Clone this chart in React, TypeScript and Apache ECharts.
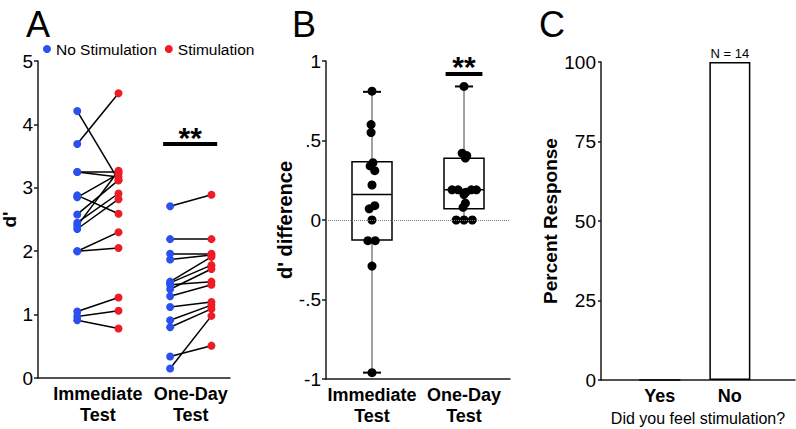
import React, { useEffect, useRef } from 'react';
import * as echarts from 'echarts';

const FONT = '"Liberation Sans", Arial, Helvetica, sans-serif';
const BLUE = '#2a50ee';
const RED = '#ee1c24';
const INK = '#1a1a1a';

// ---------- Panel A: d' per subject ----------
const aGroupLabels = ['Immediate\nTest', 'One-Day\nTest'];
const aImmNoStim = [4.21, 3.69, 3.25, 3.25, 2.88, 2.85, 2.58, 2.45, 2.40, 2.35, 2.00, 2.00, 1.05, 0.97, 0.91];
const aImmStim = [3.12, 4.49, 3.25, 3.17, 2.59, 3.22, 3.12, 2.91, 3.27, 2.82, 2.30, 2.05, 1.27, 1.06, 0.78];
const aDayNoStim = [2.71, 2.19, 1.96, 1.87, 1.52, 1.50, 1.47, 1.40, 1.29, 1.12, 0.91, 0.80, 0.34, 0.15];
const aDayStim = [2.89, 2.19, 1.96, 1.94, 1.91, 1.78, 1.52, 1.72, 1.47, 1.20, 1.15, 1.09, 0.51, 0.98];
const aSigLevel = 3.69;
const aSigSpan = [3.08, 4.39];

// ---------- Panel B: d' difference ----------
const bCategories = ['Immediate\nTest', 'One-Day\nTest'];
const bImmediate = [0.81, 0.60, 0.55, 0.36, 0.34, 0.31, 0.22, 0.09, 0.07, 0.00, -0.13, -0.13, -0.29, -0.96];
const bImmediateJitter = [0, -0.01, -0.01, 0.01, -0.02, 0.03, 0, 0.03, -0.03, 0, -0.045, 0.035, 0, 0];
const bOneDay = [0.84, 0.42, 0.405, 0.39, 0.19, 0.19, 0.175, 0.19, 0.19, 0.16, 0.106, 0.08, 0, 0, 0];
const bOneDayJitter = [0, -0.02, 0.03, 0.015, -0.13, -0.065, 0.02, 0.08, 0.135, 0, 0.015, -0.01, -0.085, 0, 0.09];
// [min, Q1, median, Q3, max]
const bBoxStats = [
  [-0.96, -0.125, 0.16, 0.366, 0.806],
  [0.0, 0.07, 0.19, 0.389, 0.84],
];
const bSigLevel = 0.917;
const bSigSpan = [0.8, 1.2];

// ---------- Panel C: stimulation perception ----------
const cCategories = ['Yes', 'No'];
const cPercent = [0, 100];
const cCount = [0, 14];

// x positions (data units) of the four columns in panel A
const AX = { immNo: 1, immStim: 2, dayNo: 3.25, dayStim: 4.25 };

const axisLineStyle = { color: INK, width: 1.5 };
const tickLabel = { fontSize: 19, color: '#000', fontFamily: FONT };
const boldLabel = { fontSize: 18, fontWeight: 'bold' as const, color: '#000', fontFamily: FONT, lineHeight: 21 };
const yName = { fontSize: 19, fontWeight: 'bold' as const, color: '#000', fontFamily: FONT };
const starLabel = {
  show: true, position: 'top', formatter: '**', fontSize: 30, fontWeight: 'bold',
  color: '#000', opacity: 1, fontFamily: FONT,
};

export default function App() {
  const ref = useRef<HTMLDivElement>(null);
  useEffect(() => {
    if (!ref.current) return;
    const chart = echarts.init(ref.current, undefined, { renderer: 'svg' });

    const pairsA = [
      ...aImmNoStim.map((v, i) => ({ coords: [[AX.immNo, v], [AX.immStim, aImmStim[i]]] })),
      ...aDayNoStim.map((v, i) => ({ coords: [[AX.dayNo, v], [AX.dayStim, aDayStim[i]]] })),
    ];

    const option: any = {
      animation: false,
      textStyle: { fontFamily: FONT },
      legend: {
        left: 43,
        top: 41,
        padding: 0,
        itemWidth: 8,
        itemHeight: 8,
        itemGap: 8,
        icon: 'circle',
        data: ['No Stimulation', 'Stimulation'],
        textStyle: { fontSize: 15.5, color: '#000', fontFamily: FONT },
        selectedMode: false,
      },
      graphic: [
        { type: 'text', left: 26, top: 6, style: { text: 'A', fontSize: 36, fill: '#000', fontFamily: FONT } },
        { type: 'text', left: 292, top: 6, style: { text: 'B', fontSize: 36, fill: '#000', fontFamily: FONT } },
        { type: 'text', left: 539, top: 6, style: { text: 'C', fontSize: 36, fill: '#000', fontFamily: FONT } },
      ],
      grid: [
        { left: 38, top: 61, width: 192, height: 317, outerBoundsMode: 'none' },
        { left: 326, top: 61, width: 184, height: 318, outerBoundsMode: 'none' },
        { left: 601, top: 62, width: 194, height: 318, outerBoundsMode: 'none' },
      ],
      xAxis: [
        {
          gridIndex: 0, type: 'value', min: 0.05, max: 4.7,
          axisLine: { show: true, onZero: false, lineStyle: axisLineStyle },
          axisTick: { show: false }, splitLine: { show: false },
          axisLabel: {
            ...boldLabel, margin: 5,
            customValues: [(AX.immNo + AX.immStim) / 2, (AX.dayNo + AX.dayStim) / 2],
            formatter: (v: number) => (v < (AX.immStim + AX.dayNo) / 2 ? aGroupLabels[0] : aGroupLabels[1]),
          },
        },
        {
          gridIndex: 1, type: 'category', data: bCategories, boundaryGap: true,
          axisLine: { show: true, onZero: false, lineStyle: axisLineStyle },
          axisTick: { show: false },
          axisLabel: { ...boldLabel, margin: 5, interval: 0 },
        },
        { gridIndex: 1, type: 'value', min: -0.5, max: 1.5, show: false },
        {
          gridIndex: 2, type: 'value', min: 0.16, max: 2.93,
          axisLine: { show: true, onZero: false, lineStyle: axisLineStyle },
          axisTick: { show: false }, splitLine: { show: false },
          axisLabel: {
            ...boldLabel, margin: 5,
            customValues: cCategories.map((_, i) => i + 1),
            formatter: (v: number) => cCategories[Math.round(v) - 1] ?? '',
          },
          name: 'Did you feel stimulation?', nameLocation: 'middle', nameGap: 23,
          nameTextStyle: { fontSize: 16, color: '#000', fontFamily: FONT },
        },
      ],
      yAxis: [
        {
          gridIndex: 0, type: 'value', min: 0, max: 5, interval: 1,
          axisLine: { show: true, lineStyle: axisLineStyle },
          axisTick: { show: true, length: 4, lineStyle: axisLineStyle },
          splitLine: { show: false },
          axisLabel: { ...tickLabel, margin: 5 },
          name: "d'", nameLocation: 'middle', nameGap: 17, nameTextStyle: yName,
        },
        {
          gridIndex: 1, type: 'value', min: -1, max: 1, interval: 0.5,
          axisLine: { show: true, onZero: false, lineStyle: axisLineStyle },
          axisTick: { show: true, length: 4, lineStyle: axisLineStyle },
          splitLine: { show: false },
          axisLabel: {
            ...tickLabel, margin: 5,
            formatter: (v: number) => (v === 0 ? '0' : (v < 0 ? '-' : '') + String(Math.abs(v)).replace(/^0/, '')),
          },
          name: "d' difference", nameLocation: 'middle', nameGap: 30,
          nameTextStyle: { ...yName, fontSize: 20 },
        },
        {
          gridIndex: 2, type: 'value', min: 0, max: 100, interval: 25,
          axisLine: { show: true, lineStyle: axisLineStyle },
          axisTick: { show: true, length: 3, lineStyle: axisLineStyle },
          splitLine: { show: false },
          axisLabel: { ...tickLabel, margin: 5 },
          name: 'Percent Response', nameLocation: 'middle', nameGap: 33, nameTextStyle: yName,
        },
      ],
      series: [
        // ----- Panel A -----
        {
          type: 'lines', coordinateSystem: 'cartesian2d', xAxisIndex: 0, yAxisIndex: 0,
          data: pairsA, silent: true, z: 2,
          lineStyle: { color: '#000', width: 1.5, opacity: 1 },
        },
        {
          name: 'No Stimulation', type: 'scatter', xAxisIndex: 0, yAxisIndex: 0, z: 3,
          symbol: 'circle', symbolSize: 8, itemStyle: { color: BLUE, opacity: 1 },
          data: [...aImmNoStim.map((v) => [AX.immNo, v]), ...aDayNoStim.map((v) => [AX.dayNo, v])],
        },
        {
          name: 'Stimulation', type: 'scatter', xAxisIndex: 0, yAxisIndex: 0, z: 3,
          symbol: 'circle', symbolSize: 8, itemStyle: { color: RED, opacity: 1 },
          data: [...aImmStim.map((v) => [AX.immStim, v]), ...aDayStim.map((v) => [AX.dayStim, v])],
        },
        {
          type: 'lines', coordinateSystem: 'cartesian2d', xAxisIndex: 0, yAxisIndex: 0, silent: true,
          data: [{ coords: [[aSigSpan[0], aSigLevel], [aSigSpan[1], aSigLevel]] }],
          lineStyle: { color: '#000', width: 4, opacity: 1 },
        },
        {
          type: 'scatter', xAxisIndex: 0, yAxisIndex: 0, silent: true, symbolSize: 1,
          itemStyle: { color: 'rgba(0,0,0,0)', opacity: 1 },
          data: [[(aSigSpan[0] + aSigSpan[1]) / 2, aSigLevel]],
          label: { ...starLabel, distance: -9 },
        },
        // ----- Panel B -----
        {
          type: 'line', xAxisIndex: 2, yAxisIndex: 1, data: [[0, 0]], showSymbol: false, silent: true, z: 1,
          lineStyle: { width: 0 },
          markLine: {
            silent: true, symbol: ['none', 'none'], label: { show: false },
            lineStyle: { type: 'dotted', color: '#777', width: 1 },
            data: [{ yAxis: 0 }],
          },
        },
        {
          type: 'custom', xAxisIndex: 1, yAxisIndex: 1, z: 2, silent: true,
          data: bBoxStats.map((s, i) => [i, ...s]),
          encode: { x: 0, y: [1, 2, 3, 4, 5] },
          renderItem: (_params: any, api: any) => {
            const x = api.value(0);
            const lo = api.coord([x, api.value(1)]);
            const q1 = api.coord([x, api.value(2)]);
            const med = api.coord([x, api.value(3)]);
            const q3 = api.coord([x, api.value(4)]);
            const hi = api.coord([x, api.value(5)]);
            const cx = lo[0];
            const hw = 20;
            const cw = 9;
            return {
              type: 'group',
              children: [
                { type: 'line', shape: { x1: cx, y1: hi[1], x2: cx, y2: lo[1] }, style: { stroke: '#444', lineWidth: 1 } },
                { type: 'line', shape: { x1: cx - cw, y1: hi[1], x2: cx + cw, y2: hi[1] }, style: { stroke: '#000', lineWidth: 2 } },
                { type: 'line', shape: { x1: cx - cw, y1: lo[1], x2: cx + cw, y2: lo[1] }, style: { stroke: '#000', lineWidth: 2 } },
                { type: 'rect', shape: { x: cx - hw, y: q3[1], width: 2 * hw, height: q1[1] - q3[1] }, style: { fill: '#fff', stroke: '#000', lineWidth: 1.5 } },
                { type: 'line', shape: { x1: cx - hw, y1: med[1], x2: cx + hw, y2: med[1] }, style: { stroke: '#000', lineWidth: 1.5 } },
              ],
            };
          },
        },
        {
          type: 'scatter', xAxisIndex: 2, yAxisIndex: 1, z: 3, silent: true,
          symbol: 'circle', symbolSize: 9, itemStyle: { color: '#000', opacity: 1 },
          data: [
            ...bImmediate.map((v, i) => [0 + bImmediateJitter[i], v]),
            ...bOneDay.map((v, i) => [1 + bOneDayJitter[i], v]),
          ],
        },
        {
          type: 'lines', coordinateSystem: 'cartesian2d', xAxisIndex: 2, yAxisIndex: 1, silent: true,
          data: [{ coords: [[bSigSpan[0], bSigLevel], [bSigSpan[1], bSigLevel]] }],
          lineStyle: { color: '#000', width: 4, opacity: 1 },
        },
        {
          type: 'scatter', xAxisIndex: 2, yAxisIndex: 1, silent: true, symbolSize: 1,
          itemStyle: { color: 'rgba(0,0,0,0)', opacity: 1 },
          data: [[(bSigSpan[0] + bSigSpan[1]) / 2, bSigLevel]],
          label: { ...starLabel, distance: -8 },
        },
        // ----- Panel C -----
        {
          type: 'bar', xAxisIndex: 3, yAxisIndex: 2, barWidth: 41, silent: true,
          itemStyle: { color: '#fff', borderColor: '#000', borderWidth: 1.5 },
          label: { position: 'top', distance: 2, fontSize: 13, color: '#000', fontFamily: FONT },
          data: cPercent.map((v, i) => ({
            value: [i + 1, v],
            label: { show: cCount[i] > 0, formatter: `N = ${cCount[i]}` },
          })),
        },
      ],
    };
    chart.setOption(option);
    return () => chart.dispose();
  }, []);
  return <div ref={ref} style={{ position: 'fixed', left: 0, top: 0, width: 796, height: 429, background: '#fff' }} />;
}
